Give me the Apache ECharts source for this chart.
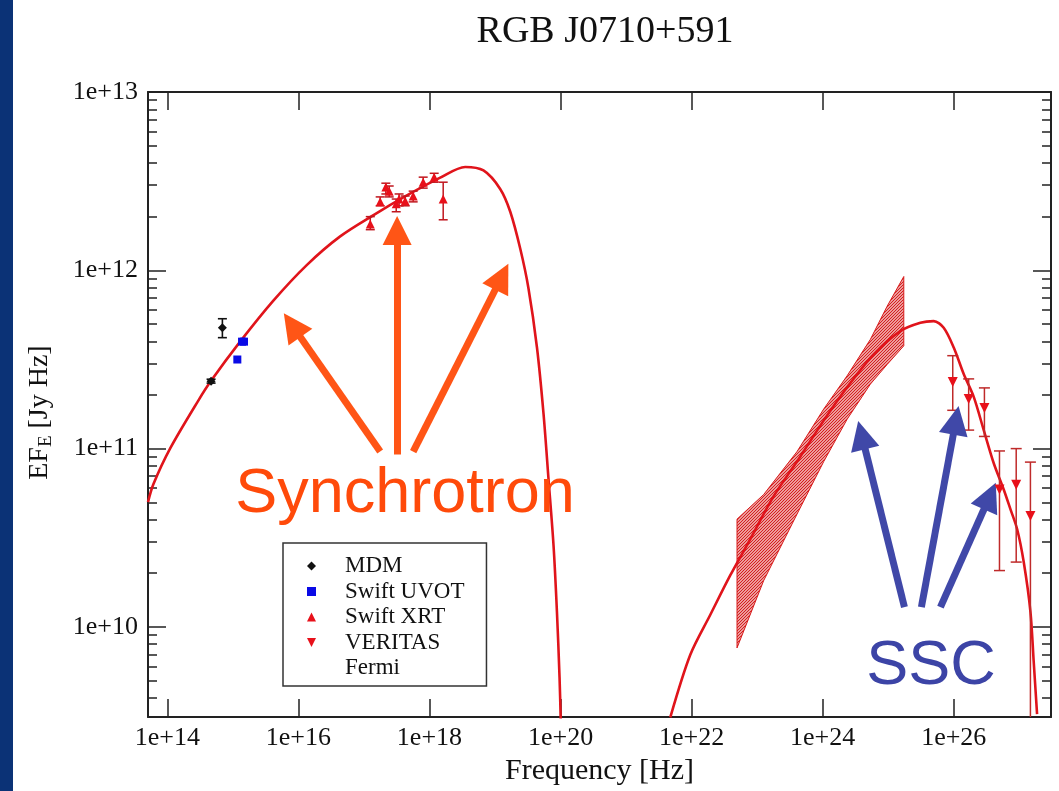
<!DOCTYPE html>
<html><head><meta charset="utf-8">
<script src="https://cdn.jsdelivr.net/npm/echarts@6/dist/echarts.min.js"></script>
<style>html,body{margin:0;padding:0;background:#fff}#c{width:1059px;height:791px}</style>
</head><body><div id="c"></div>
<script>
// ---- axis ticks ----
const xTickValues = [1e14, 1e16, 1e18, 1e20, 1e22, 1e24, 1e26];
const yTickValues = [1e10, 1e11, 1e12, 1e13];
const yMinorValues = [4e9, 5e9, 6e9, 7e9, 8e9, 9e9,
  2e10, 3e10, 4e10, 5e10, 6e10, 7e10, 8e10, 9e10,
  2e11, 3e11, 4e11, 5e11, 6e11, 7e11, 8e11, 9e11,
  2e12, 3e12, 4e12, 5e12, 6e12, 7e12, 8e12, 9e12];
const xMin = 5.07e13, xMax = 3.05e27, yMin = 3.12e9, yMax = 1e13;

// ---- synchrotron model ----
const synFreq = [5.07e13, 6.12e13, 1.10e14, 2.97e14, 4.65e14, 1.29e15, 4.15e15, 1.34e16, 4.34e16, 1.40e17, 4.52e17, 1.46e18, 3.51e18, 6.67e18, 1.20e19, 1.71e19, 2.43e19, 3.24e19, 4.37e19, 5.50e19, 6.56e19, 7.82e19, 8.81e19, 9.66e19, 1.01e20];
const synFlux = [5.01e10, 6.31e10, 1.00e11, 1.86e11, 2.40e11, 3.98e11, 6.76e11, 1.07e12, 1.55e12, 2.04e12, 2.63e12, 3.31e12, 3.80e12, 3.63e12, 2.86e12, 2.13e12, 1.32e12, 7.94e11, 3.69e11, 1.57e11, 6.73e10, 2.86e10, 1.22e10, 5.21e9, 2.86e9];

// ---- SSC model ----
const sscFreq = [4.73e21, 9.55e21, 1.93e22, 3.90e22, 7.87e22, 1.79e23, 4.57e23, 1.04e24, 2.36e24, 6.01e24, 1.53e25, 3.10e25, 4.95e25, 7.03e25, 1.00e26, 1.42e26, 2.02e26, 2.87e26, 4.08e26, 5.79e26, 7.35e26, 9.29e26, 1.17e27, 1.48e27, 1.66e27, 1.87e27];
const sscFlux = [3.11e9, 6.98e9, 1.17e10, 1.95e10, 3.11e10, 5.41e10, 9.04e10, 1.44e11, 2.21e11, 3.38e11, 4.56e11, 5.08e11, 5.19e11, 4.76e11, 3.69e11, 2.62e11, 1.95e11, 1.27e11, 8.28e10, 5.90e10, 4.56e10, 3.53e10, 2.31e10, 1.22e10, 6.41e9, 3.24e9];

// ---- Fermi bowtie ----
const fermiFreq = [4.93e22, 1.26e23, 4.06e23, 1.04e24, 2.36e24, 5.35e24, 9.62e24, 1.73e25];
const fermiHigh = [4.02e10, 5.53e10, 9.62e10, 1.67e11, 2.56e11, 4.10e11, 6.28e11, 9.23e11];
const fermiLow  = [7.62e9, 1.82e10, 4.29e10, 8.47e10, 1.46e11, 2.30e11, 2.96e11, 3.77e11];

// ---- MDM ----
const mdmFreq = [4.65e14, 6.92e14];
const mdmFlux = [2.39e11, 4.76e11];
const mdmLow  = [2.33e11, 4.19e11];
const mdmHigh = [2.45e11, 5.35e11];

// ---- Swift UVOT ----
const uvotFreq = [1.17e15, 1.38e15, 1.48e15];
const uvotFlux = [3.16e11, 3.98e11, 3.98e11];

// ---- Swift XRT ----
const xrtFreq = [1.25e17, 1.77e17, 2.16e17, 2.43e17, 3.11e17, 3.44e17, 4.26e17, 5.64e17, 8.02e17, 1.18e18, 1.62e18];
const xrtFlux = [1.82e12, 2.42e12, 2.93e12, 2.78e12, 2.36e12, 2.51e12, 2.45e12, 2.61e12, 3.12e12, 3.33e12, 2.51e12];
const xrtLow  = [1.69e12, 2.30e12, 2.68e12, 2.58e12, 2.13e12, 2.30e12, 2.30e12, 2.42e12, 2.89e12, 3.12e12, 1.92e12];
const xrtHigh = [2.00e12, 2.58e12, 3.08e12, 2.97e12, 2.51e12, 2.68e12, 2.61e12, 2.78e12, 3.33e12, 3.50e12, 3.12e12];

// ---- VERITAS ----
const verFreq = [9.66e25, 1.69e26, 2.94e26, 4.99e26, 8.98e26, 1.48e27];
const verFlux = [2.36e11, 1.90e11, 1.69e11, 5.90e10, 6.28e10, 4.19e10];
const verLow  = [1.64e11, 1.27e11, 1.17e11, 2.07e10, 2.31e10, 2.0e9];
const verHigh = [3.32e11, 2.46e11, 2.19e11, 9.7e10, 1.0e11, 8.4e10];

// ---- annotation arrows (tail, head) in data coordinates ----
const synArrows = [
  [[1.77e17, 9.62e10], [8.02e15, 4.92e11]],
  [[3.21e17, 9.27e10], [3.21e17, 1.67e12]],
  [[5.64e17, 9.62e10], [1.27e19, 9.20e11]]
];
const sscArrows = [
  [[1.77e25, 1.29e10], [3.94e24, 1.19e11]],
  [[3.21e25, 1.29e10], [1.08e26, 1.44e11]],
  [[6.27e25, 1.29e10], [3.56e26, 5.42e10]]
];

const zip2 = (a, b) => a.map((v, i) => [v, b[i]]);
const zip3 = (a, b, c) => a.map((v, i) => [v, b[i], c[i]]);

const SERIF = '"Liberation Serif", "Times New Roman", serif';
const SANS = '"Liberation Sans", Arial, sans-serif';
const AXC = '#222';

// hatch pattern for Fermi band
const hatch = document.createElement('canvas');
hatch.width = 3; hatch.height = 3;
const hc = hatch.getContext('2d');
hc.fillStyle = 'rgba(240,150,150,0.45)';
hc.fillRect(0, 0, 3, 3);
hc.strokeStyle = '#d21818'; hc.lineWidth = 1.1;
hc.beginPath();
hc.moveTo(0, 3); hc.lineTo(3, 0);
hc.moveTo(-1, 1); hc.lineTo(1, -1);
hc.moveTo(2, 4); hc.lineTo(4, 2);
hc.stroke();
const hatchPattern = { image: hatch, repeat: 'repeat' };

function errRender(capHalf, width) {
  return function (params, api) {
    const x = api.value(0), lo = api.value(1), hi = api.value(2);
    const p1 = api.coord([x, hi]);
    const p2 = api.coord([x, lo]);
    const st = { stroke: api.visual('color'), lineWidth: width, fill: null };
    return { type: 'group', children: [
      { type: 'line', shape: { x1: p1[0], y1: p1[1], x2: p2[0], y2: p2[1] }, style: st },
      { type: 'line', shape: { x1: p1[0] - capHalf, y1: p1[1], x2: p1[0] + capHalf, y2: p1[1] }, style: st },
      { type: 'line', shape: { x1: p2[0] - capHalf, y1: p2[1], x2: p2[0] + capHalf, y2: p2[1] }, style: st }
    ]};
  };
}

function bowtieRender(params, api) {
  if (params.dataIndex !== 0) return;
  const pts = [];
  for (let i = 0; i < fermiFreq.length; i++) pts.push(api.coord([fermiFreq[i], fermiHigh[i]]));
  for (let i = fermiFreq.length - 1; i >= 0; i--) pts.push(api.coord([fermiFreq[i], fermiLow[i]]));
  return { type: 'polygon', shape: { points: pts }, style: { fill: hatchPattern, stroke: '#d81c1c', lineWidth: 1 } };
}

const fmt = v => '1e+' + Math.round(Math.log10(v));

const baseX = { type: 'log', min: xMin, max: xMax, splitLine: { show: false } };
const baseY = { type: 'log', min: yMin, max: yMax, splitLine: { show: false } };

const arrowLine = (arr, color) => ({
  silent: true, symbol: ['none', 'triangle'], symbolSize: 29,
  label: { show: false }, emphasis: { disabled: true },
  lineStyle: { color: color, width: 7, type: 'solid' },
  data: arr.map(a => [{ coord: a[0] }, { coord: a[1] }])
});

const option = {
  animation: false,
  backgroundColor: '#fff',
  title: {
    text: 'RGB J0710+591', left: 600, top: 8, textAlign: 'center',
    textStyle: { fontFamily: SERIF, fontSize: 38, fontWeight: 'normal', color: '#111' }
  },
  grid: { left: 148, right: 8, top: 92, bottom: 69, containLabel: false },
  xAxis: [
    Object.assign({}, baseX, {
      position: 'bottom',
      axisLine: { show: true, lineStyle: { color: AXC, width: 2 } },
      axisTick: { show: true, inside: true, length: 18, customValues: xTickValues, lineStyle: { color: AXC, width: 1.5 } },
      axisLabel: { show: true, customValues: xTickValues, formatter: fmt, margin: 8, fontFamily: SERIF, fontSize: 26, color: '#111' },
      name: 'Frequency [Hz]', nameLocation: 'middle', nameGap: 37,
      nameTextStyle: { fontFamily: SERIF, fontSize: 30, color: '#111' }
    }),
    Object.assign({}, baseX, {
      position: 'top',
      axisLine: { show: true, lineStyle: { color: AXC, width: 2 } },
      axisTick: { show: true, inside: true, length: 18, customValues: xTickValues, lineStyle: { color: AXC, width: 1.5 } },
      axisLabel: { show: false }
    })
  ],
  yAxis: [
    Object.assign({}, baseY, {
      position: 'left',
      axisLine: { show: true, lineStyle: { color: AXC, width: 2 } },
      axisTick: { show: true, inside: true, length: 18, customValues: yTickValues, lineStyle: { color: AXC, width: 1.5 } },
      axisLabel: { show: true, customValues: yTickValues, formatter: fmt, margin: 10, fontFamily: SERIF, fontSize: 26, color: '#111', showMaxLabel: true, showMinLabel: true },
      name: '{a|EF}{s|E}{a| [Jy Hz]}', nameLocation: 'middle', nameGap: 92, nameRotate: 90,
      nameTextStyle: { color: '#111', padding: [0, 16, 0, 0], rich: {
        a: { fontFamily: SERIF, fontSize: 28, lineHeight: 32, color: '#111' },
        s: { fontFamily: SERIF, fontSize: 19, lineHeight: 19, padding: [13, 0, 0, 0], verticalAlign: 'bottom', color: '#111' }
      } }
    }),
    Object.assign({}, baseY, {
      position: 'left',
      axisLine: { show: false },
      axisTick: { show: true, inside: true, length: 9, customValues: yMinorValues, lineStyle: { color: AXC, width: 1.5 } },
      axisLabel: { show: false }
    }),
    Object.assign({}, baseY, {
      position: 'right',
      axisLine: { show: true, lineStyle: { color: AXC, width: 2 } },
      axisTick: { show: true, inside: true, length: 18, customValues: yTickValues, lineStyle: { color: AXC, width: 1.5 } },
      axisLabel: { show: false }
    }),
    Object.assign({}, baseY, {
      position: 'right',
      axisLine: { show: false },
      axisTick: { show: true, inside: true, length: 9, customValues: yMinorValues, lineStyle: { color: AXC, width: 1.5 } },
      axisLabel: { show: false }
    })
  ],
  legend: {
    orient: 'vertical', left: 283, top: 543,
    padding: [11.5, 22, 6.5, 24], itemGap: 2.5, itemWidth: 9, itemHeight: 9,
    borderColor: '#333', borderWidth: 1.5, backgroundColor: '#fff', selectedMode: false,
    textStyle: { fontFamily: SERIF, fontSize: 23, color: '#111', lineHeight: 19, padding: [0, 0, 0, 24] },
    data: [
      { name: 'MDM', icon: 'diamond' },
      { name: 'Swift UVOT', icon: 'rect' },
      { name: 'Swift XRT', icon: 'triangle' },
      { name: 'VERITAS', icon: 'path://M0,0L10,0L5,10Z' },
      { name: 'Fermi', icon: 'rect', itemStyle: { color: 'rgba(0,0,0,0)', borderWidth: 0 } }
    ]
  },
  graphic: [
    { type: 'rect', x: 0, y: 0, shape: { width: 13, height: 791 }, style: { fill: '#0b3276' }, silent: true, z: 100 },
    { type: 'text', x: 405, y: 495, z: 100, silent: true,
      style: { text: 'Synchrotron', font: '63px ' + SANS, fill: '#ff4a0a', align: 'center', verticalAlign: 'middle' } },
    { type: 'text', x: 931, y: 667, z: 100, silent: true,
      style: { text: 'SSC', font: '63px ' + SANS, fill: '#3c44a6', align: 'center', verticalAlign: 'middle' } }
  ],
  series: [
    { name: 'Fermi', type: 'custom', xAxisIndex: 0, yAxisIndex: 0, z: 1, clip: true,
      itemStyle: { color: '#d81c1c' },
      data: [[fermiFreq[0], fermiLow[0]]], encode: { x: 0, y: 1 }, renderItem: bowtieRender, silent: true },
    { name: 'Synchrotron model', type: 'line', xAxisIndex: 0, yAxisIndex: 0, z: 3,
      data: zip2(synFreq, synFlux), showSymbol: false, smooth: 0.3, clip: true, silent: true,
      lineStyle: { color: '#e0141b', width: 2.6 }, itemStyle: { color: '#e0141b' },
      markLine: arrowLine(synArrows, '#ff5516') },
    { name: 'SSC model', type: 'line', xAxisIndex: 0, yAxisIndex: 0, z: 3,
      data: zip2(sscFreq, sscFlux), showSymbol: false, smooth: 0.3, clip: true, silent: true,
      lineStyle: { color: '#e0141b', width: 2.6 }, itemStyle: { color: '#e0141b' },
      markLine: arrowLine(sscArrows, '#4048a8') },
    { name: 'MDM err', type: 'custom', z: 4, clip: true, silent: true, itemStyle: { color: '#111' },
      data: zip3(mdmFreq, mdmLow, mdmHigh), encode: { x: 0, y: [1, 2] }, renderItem: errRender(4.5, 1.6) },
    { name: 'MDM', type: 'scatter', z: 5, symbol: 'diamond', symbolSize: 9, silent: true,
      itemStyle: { color: '#111', opacity: 1 }, data: zip2(mdmFreq, mdmFlux) },
    { name: 'Swift UVOT', type: 'scatter', z: 5, symbol: 'rect', symbolSize: 8, silent: true,
      itemStyle: { color: '#0a0ae6', opacity: 1 }, data: zip2(uvotFreq, uvotFlux) },
    { name: 'XRT err', type: 'custom', z: 4, clip: true, silent: true, itemStyle: { color: '#c0161e' },
      data: zip3(xrtFreq, xrtLow, xrtHigh), encode: { x: 0, y: [1, 2] }, renderItem: errRender(4.5, 1.5) },
    { name: 'Swift XRT', type: 'scatter', z: 5, symbol: 'triangle', symbolSize: 9, silent: true,
      itemStyle: { color: '#e8101a', opacity: 1 }, data: zip2(xrtFreq, xrtFlux) },
    { name: 'VERITAS err', type: 'custom', z: 4, clip: true, silent: true, itemStyle: { color: '#bf2a2a' },
      data: zip3(verFreq, verLow, verHigh), encode: { x: 0, y: [1, 2] }, renderItem: errRender(5.5, 1.5) },
    { name: 'VERITAS', type: 'scatter', z: 5, symbol: 'triangle', symbolRotate: 180, symbolSize: 10, silent: true,
      itemStyle: { color: '#e8101a', opacity: 1 }, data: zip2(verFreq, verFlux) }
  ]
};

const chart = echarts.init(document.getElementById('c'), null, { renderer: 'canvas' });
chart.setOption(option);
</script></body></html>
